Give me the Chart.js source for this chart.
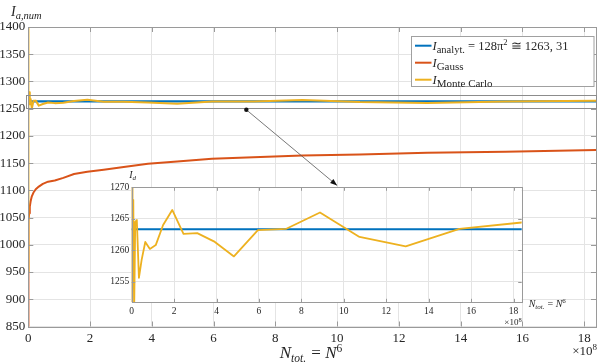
<!DOCTYPE html>
<html><head><meta charset="utf-8">
<script src="https://cdn.jsdelivr.net/npm/chart.js@4.4.1/dist/chart.umd.min.js"></script>
<style>
html,body{margin:0;padding:0;background:#fff;}
#wrap{position:relative;width:598px;height:362px;overflow:hidden;}
canvas{position:absolute;left:0;top:0;}
</style></head><body>
<div id="wrap"><canvas id="main" width="598" height="362"></canvas><canvas id="inset" width="598" height="362"></canvas></div>
<script>
// ---- data ----
const Ntot = [1, 64, 729, 4096, 15625, 46656, 117649, 262144, 531441, 1000000,
  1771561, 2985984, 4826809, 7529536, 11390625, 16777216, 24137569, 34012224, 47045881, 64000000,
  85766121, 113379904, 148035889, 191102976, 244140625, 308915776, 387420489, 481890304, 594823321, 729000000,
  887503681, 1073741824, 1291467969, 1544804416, 1838265625];
const I_ANALYT = 1263.31;
const gaussValues = [300, 580, 720, 810, 870, 915, 955, 985, 1010, 1030,
  1045, 1058, 1070, 1080, 1089, 1096, 1102, 1107, 1112, 1116,
  1118, 1123, 1130, 1134, 1138, 1143, 1149, 1153, 1158, 1161,
  1164, 1166, 1169, 1171, 1174];
const monteCarloValues = [1600, 950, 1420, 1150, 1340, 1210, 1300, 1230, 1285, 1245,
  1272, 1280, 1258, 1268, 1250, 1264.5, 1264.8, 1255.6, 1258.5, 1261.3,
  1260.2, 1260.8, 1264.0, 1266.4, 1262.6, 1262.7, 1261.4, 1259.0, 1263.2, 1263.4,
  1266.0, 1262.1, 1260.6, 1263.4, 1264.4];
const xTickLabels = [0, 2, 4, 6, 8, 10, 12, 14, 16, 18];       // x 10^8
const mainYTicks = [850, 900, 950, 1000, 1050, 1100, 1150, 1200, 1250, 1300, 1350, 1400];
const insetYTicks = [1255, 1260, 1265, 1270];
const zoomBox = {xMin: -7000000, xMax: 1840000000, yMin: 1250, yMax: 1274.5};
const arrowFrom = {x: 706000000, y: 1248};
const arrowTo = {x: 1000000000, y: 1109};

const BLUE = '#0072BD', RED = '#D95319', YEL = '#EDB120';
const FONT = '"Liberation Serif", "DejaVu Serif", serif';
const TXT = '#262626', BOX = '#9a9a9a', GRID = '#e4e4e4';
Chart.defaults.font.family = FONT;
Chart.defaults.color = TXT;

function pts(ys){ return Ntot.map((x,i)=>({x:x, y:ys[i]})); }
const analytValues = Ntot.map(()=>I_ANALYT);

function rich(ctx, x, y, parts, align){
  let w = 0;
  for (const p of parts){ ctx.font = (p[2]||'') + ' ' + p[1] + 'px ' + FONT; w += ctx.measureText(p[0]).width + (p[4]||0); }
  let cx = align==='center' ? x - w/2 : (align==='right' ? x - w : x);
  ctx.textAlign='left'; ctx.textBaseline='alphabetic'; ctx.fillStyle=TXT;
  for (const p of parts){
    ctx.font = (p[2]||'') + ' ' + p[1] + 'px ' + FONT;
    ctx.fillText(p[0], cx, y + (p[3]||0));
    cx += ctx.measureText(p[0]).width + (p[4]||0);
  }
}

function framePlugin(tickLen){
  return {
    id:'frame',
    beforeDraw(chart, a, o){
      if (o && o.fill){ const c=chart.chartArea, ctx=chart.ctx; ctx.save(); ctx.fillStyle='#fff'; ctx.fillRect(c.left,c.top,c.right-c.left,c.bottom-c.top); ctx.restore(); }
    },
    afterDatasetsDraw(chart){
      const c=chart.chartArea, ctx=chart.ctx; ctx.save();
      ctx.strokeStyle=BOX; ctx.lineWidth=1;
      ctx.strokeRect(Math.round(c.left)+0.5, Math.round(c.top)+0.5, Math.round(c.right-c.left), Math.round(c.bottom-c.top));
      ctx.beginPath();
      for (const t of chart.scales.x.ticks){ const px=Math.round(chart.scales.x.getPixelForValue(t.value))+0.5;
        ctx.moveTo(px,c.bottom); ctx.lineTo(px,c.bottom-tickLen); ctx.moveTo(px,c.top); ctx.lineTo(px,c.top+tickLen); }
      for (const t of chart.scales.y.ticks){ const py=Math.round(chart.scales.y.getPixelForValue(t.value))+0.5;
        ctx.moveTo(c.left,py); ctx.lineTo(c.left+tickLen,py); ctx.moveTo(c.right,py); ctx.lineTo(c.right-tickLen,py); }
      ctx.stroke(); ctx.restore();
    }
  };
}

const mainDecor = {
  id:'mainDecor',
  afterDraw(chart){
    const ctx=chart.ctx, xs=chart.scales.x, ys=chart.scales.y;
    ctx.save();
    // zoom rectangle
    const rx0=xs.getPixelForValue(zoomBox.xMin), rx1=xs.getPixelForValue(zoomBox.xMax);
    const ry0=ys.getPixelForValue(zoomBox.yMax), ry1=ys.getPixelForValue(zoomBox.yMin);
    ctx.strokeStyle='#8c8c8c'; ctx.lineWidth=1;
    ctx.strokeRect(Math.round(rx0)+0.5, Math.round(ry0)+0.5, Math.round(rx1-rx0), Math.round(ry1-ry0));
    // arrow
    const ax=xs.getPixelForValue(arrowFrom.x), ay=ys.getPixelForValue(arrowFrom.y);
    const bx=xs.getPixelForValue(arrowTo.x), by=ys.getPixelForValue(arrowTo.y);
    ctx.strokeStyle='#555'; ctx.lineWidth=0.8;
    ctx.beginPath(); ctx.moveTo(ax,ay); ctx.lineTo(bx,by); ctx.stroke();
    ctx.fillStyle='#111'; ctx.beginPath(); ctx.arc(ax,ay,2.2,0,Math.PI*2); ctx.fill();
    const ang=Math.atan2(by-ay,bx-ax), L=7, W=2.6;
    ctx.beginPath(); ctx.moveTo(bx,by);
    ctx.lineTo(bx-L*Math.cos(ang)+W*Math.sin(ang), by-L*Math.sin(ang)-W*Math.cos(ang));
    ctx.lineTo(bx-L*Math.cos(ang)-W*Math.sin(ang), by-L*Math.sin(ang)+W*Math.cos(ang));
    ctx.closePath(); ctx.fill();
    // axis titles
    rich(ctx, 11, 15.5, [['I',14,'italic'],['a,num',10.5,'italic',3]], 'left');
    rich(ctx, 311, 358, [['N',17,'italic'],['tot.',11.5,'italic',3.5,1],[' = ',17,''],['N',17,'italic'],['6',11.5,'',-6.5]], 'center');
    rich(ctx, 597, 355, [['×10',13,''],['8',9,'',-5]], 'right');
    // legend
    const lx0=411.5, ly0=36.5, lx1=594, ly1=86.5;
    ctx.fillStyle='#fff'; ctx.fillRect(lx0,ly0,lx1-lx0,ly1-ly0);
    ctx.strokeStyle='#a0a0a0'; ctx.lineWidth=1; ctx.strokeRect(lx0,ly0,lx1-lx0,ly1-ly0);
    const rows = [
      {c:BLUE, y:45.7, parts:[['I',12.5,'italic'],['analyt.',10.5,'',3],[' = 128π',12.5,''],['2',8.5,'',-5],[' ≅ 1263, 31',12.5,'']]},
      {c:RED, y:62.7, parts:[['I',12.5,'italic'],['Gauss',11,'',3]]},
      {c:YEL, y:79.7, parts:[['I',12.5,'italic'],['Monte Carlo',11,'',3]]}
    ];
    for (const r of rows){
      ctx.strokeStyle=r.c; ctx.lineWidth=2; ctx.beginPath(); ctx.moveTo(415,r.y); ctx.lineTo(431.5,r.y); ctx.stroke();
      rich(ctx, 432.5, r.y+4, r.parts, 'left');
    }
    ctx.restore();
  }
};

const insetDecor = {
  id:'insetDecor',
  afterDraw(chart){
    const ctx=chart.ctx, c=chart.chartArea; ctx.save();
    rich(ctx, c.left+1, c.top-9, [['I',10,'italic'],['d',7,'italic',2]], 'center');
    rich(ctx, c.right+7, c.bottom+5, [['N',10,'italic'],['tot.',7,'italic',2,0.5],[' = ',10,''],['N',10,'italic'],['6',7,'',-4]], 'left');
    rich(ctx, c.right, c.bottom+23, [['×10',9,''],['8',6.5,'',-3.5]], 'right');
    ctx.restore();
  }
};

const common = {
  responsive:false, animation:false, events:[],
  plugins:{legend:{display:false}, tooltip:{enabled:false}},
  elements:{point:{radius:0}, line:{tension:0, borderCapStyle:'round', borderJoinStyle:'round'}}
};

new Chart(document.getElementById('main'), {
  type:'line',
  data:{datasets:[
    {label:'I_analyt.', data:pts(analytValues), borderColor:BLUE, borderWidth:2.2, order:3},
    {label:'I_Gauss', data:pts(gaussValues), borderColor:RED, borderWidth:2, order:2},
    {label:'I_Monte Carlo', data:pts(monteCarloValues), borderColor:YEL, borderWidth:2, order:1}
  ]},
  options:Object.assign({}, common, {
    layout:{padding:{left:0, right:2, top:27, bottom:0}},
    scales:{
      x:{type:'linear', min:0, max:1838265625,
        afterFit(s){ s.height=35.5; },
        afterBuildTicks(s){ s.ticks = xTickLabels.map(v=>({value:v*1e8})); },
        ticks:{autoSkip:false, maxRotation:0, padding:4, color:TXT,
          font:{size:13}, callback:(v)=>String(Math.round(v/1e8))},
        grid:{color:GRID, drawTicks:false, lineWidth:1}, border:{display:false}},
      y:{type:'linear', min:850, max:1400,
        afterFit(s){ s.width=28.3; },
        afterBuildTicks(s){ s.ticks = mainYTicks.map(v=>({value:v})); },
        ticks:{autoSkip:false, padding:3, color:TXT, font:{size:13}, callback:(v)=>String(v)},
        grid:{color:GRID, drawTicks:false, lineWidth:1}, border:{display:false}}
    },
    plugins:Object.assign({}, common.plugins, {frame:{fill:false}})
  }),
  plugins:[framePlugin(5), mainDecor]
});

new Chart(document.getElementById('inset'), {
  type:'line',
  data:{datasets:[
    {label:'I_analyt.', data:pts(analytValues), borderColor:BLUE, borderWidth:2, order:2},
    {label:'I_Monte Carlo', data:pts(monteCarloValues), borderColor:YEL, borderWidth:1.8, order:1}
  ]},
  options:Object.assign({}, common, {
    layout:{padding:{left:106.7, right:76.3, top:187.3, bottom:41.7}},
    scales:{
      x:{type:'linear', min:0, max:1838265625,
        afterFit(s){ s.height=18; },
        afterBuildTicks(s){ s.ticks = xTickLabels.map(v=>({value:v*1e8})); },
        ticks:{autoSkip:false, maxRotation:0, padding:3, color:TXT, font:{size:9.5}, callback:(v)=>String(Math.round(v/1e8))},
        grid:{color:GRID, drawTicks:false, lineWidth:1}, border:{display:false}},
      y:{type:'linear', min:1251.7, max:1270,
        afterFit(s){ s.width=25; },
        afterBuildTicks(s){ s.ticks = insetYTicks.map(v=>({value:v})); },
        ticks:{autoSkip:false, padding:2.5, color:TXT, font:{size:9.5}, callback:(v)=>String(v)},
        grid:{color:GRID, drawTicks:false, lineWidth:1}, border:{display:false}}
    },
    plugins:Object.assign({}, common.plugins, {frame:{fill:true}})
  }),
  plugins:[framePlugin(3.5), insetDecor]
});
</script>
</body></html>
